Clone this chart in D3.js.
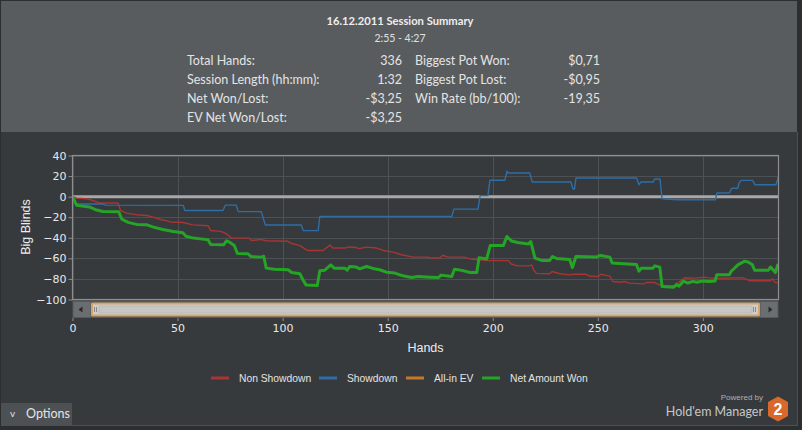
<!DOCTYPE html>
<html><head><meta charset="utf-8">
<script src="https://cdn.jsdelivr.net/npm/d3@7"></script>
<style>html,body{margin:0;padding:0;background:#2c2f32;overflow:hidden} svg{display:block}</style>
</head><body><svg id="c" width="802" height="430"></svg>
<script>
// ---------- DATA ----------
const title = "16.12.2011 Session Summary";
const timeRange = "2:55 - 4:27";
const statLabelsLeft = ["Total Hands:", "Session Length (hh:mm):", "Net Won/Lost:", "EV Net Won/Lost:"];
const statValuesLeft = ["336", "1:32", "-$3,25", "-$3,25"];
const statLabelsRight = ["Biggest Pot Won:", "Biggest Pot Lost:", "Win Rate (bb/100):"];
const statValuesRight = ["$0,71", "-$0,95", "-19,35"];

const xTicks = [0, 50, 100, 150, 200, 250, 300];
const yTicks = [40, 20, 0, -20, -40, -60, -80, -100];
const seriesNames = ["Non Showdown", "Showdown", "All-in EV", "Net Amount Won"];

// [hand, big blinds]
const nonShowdown = [[0,0],[1.9,-1.4],[7.5,-2.3],[9.9,-4],[13,-6.2],[21.7,-6.2],[22.9,-13.4],[25.7,-16],[30.5,-17.6],[35.3,-18.3],[38.4,-19.9],[42.4,-22.5],[44.8,-23.4],[46.3,-24.6],[52.7,-25.1],[57.2,-27.4],[64.6,-28.3],[65.7,-32.9],[70.5,-33.8],[73.3,-36.1],[75.7,-40.3],[84,-40.3],[85.2,-42.6],[89.6,-41.6],[92,-42.9],[102.5,-43.4],[104.4,-45.6],[108.5,-47.8],[110.8,-51],[112.1,-52.4],[119.3,-52.4],[122.5,-47.1],[124,-50],[129.6,-50],[131.6,-48.9],[135,-49.5],[136.5,-50.5],[139.9,-49.1],[144.7,-50],[148.6,-52.6],[152.6,-53.9],[156.6,-56.5],[162.1,-58.8],[169.2,-58.8],[170.5,-59.7],[174.8,-59.7],[176.2,-57],[178.7,-58.8],[186.4,-58.8],[189.7,-60.7],[193.2,-61.4],[198.2,-62.2],[207.4,-62.2],[208.8,-65.5],[211.7,-67.3],[217,-67.3],[218.6,-66.5],[219.4,-71.1],[220.8,-74.6],[227.1,-75],[228.2,-72.8],[232,-75],[236.6,-76.1],[238,-75.4],[244.2,-75.4],[246.2,-77.4],[250.2,-77.7],[251.4,-75.4],[255.7,-77.3],[257.2,-82.5],[261,-83.2],[262.5,-82.5],[265.2,-84.1],[271.8,-84.8],[273.2,-83.5],[277,-83.5],[280.2,-86.5],[286.5,-86.5],[287.8,-84],[288.8,-82.9],[291.3,-78.8],[296,-79.2],[300.9,-78.3],[303,-79],[306.5,-79.4],[318.9,-78.8],[322.1,-81.7],[332.2,-81.7],[333,-79.8],[334.5,-83.6],[336,-83.6]];

const showdown = [[0,0],[1.9,-7.2],[14,-7.2],[16,-8.2],[52.7,-8.5],[53.5,-13.4],[71.6,-13.4],[72.8,-8.2],[77.9,-8.2],[78.9,-14.6],[89.8,-14.6],[91.8,-27.5],[108.9,-27.5],[109.8,-33],[116.9,-33],[117.7,-19.3],[180.5,-19.3],[181.5,-12.1],[193,-12.1],[194,1],[197.7,1],[198.7,16],[205.8,16],[206.8,24.7],[207.4,23],[217.6,23],[218.8,14.2],[237.2,14.2],[238.2,7.4],[238.9,7.4],[239.6,18.1],[268.5,18.1],[269.6,11.6],[270.5,14.2],[276.3,14.2],[277.1,17.1],[279.6,17.1],[280.6,-2],[287.9,-3],[306,-3],[306.7,3.5],[312.7,3.8],[313.7,8.2],[316.6,8.2],[317.3,13.5],[318.3,15.8],[323.6,15.8],[324.8,11.6],[334.8,11.6],[335.9,19]];

const netWon = [[0,0],[2,-8.5],[8,-10],[11.5,-13],[14.5,-14.4],[22,-14.7],[23.5,-22],[26.5,-25],[30.5,-27],[35.5,-27.4],[38.5,-29.6],[43,-32],[48,-33.8],[52.5,-35],[54,-38.5],[57.5,-40.3],[62,-41.3],[64.5,-42],[65.8,-46.5],[72,-46.8],[73.3,-42.9],[74.9,-44.5],[77,-47.5],[78.5,-55.3],[83.5,-55.6],[85,-58.2],[89.8,-58.8],[91,-58],[92.2,-69.5],[96,-70.5],[102.6,-71.1],[104.3,-73.8],[108.2,-75],[109.7,-81],[111.2,-86],[116.5,-86.5],[117.7,-72],[120.1,-71.5],[122.9,-66.3],[124.5,-69.5],[129.6,-69.5],[130.7,-71.5],[132,-67.9],[135,-68.5],[136.7,-70.2],[139.9,-67.9],[143,-69.8],[146.2,-71.1],[149.4,-73.4],[153.4,-74.3],[157.3,-77],[161.3,-78.6],[164.5,-77.7],[170,-78.3],[174.2,-78.6],[175.4,-76.3],[180.5,-77.6],[181.8,-70.5],[185.3,-71.7],[189.2,-73.7],[192.4,-73.7],[193.5,-59.5],[197.1,-60.7],[198.8,-47.6],[205.1,-47.6],[206.7,-38.7],[209,-43.2],[211.8,-44.6],[217,-46],[218.1,-43.6],[220.1,-59.8],[223.2,-62],[227.1,-62],[228.4,-58.2],[230.3,-60.1],[236.6,-61.1],[237.9,-69],[239.6,-58.2],[244.6,-58.4],[249.3,-58.8],[251.2,-57.2],[255.7,-58.8],[256.9,-64.6],[262,-65.2],[268.4,-66],[269.6,-72.5],[270.7,-69.5],[276.3,-69.5],[277.1,-67.3],[279.5,-68.5],[280.6,-87.4],[286.2,-88],[287.4,-85.5],[288.7,-87],[290.7,-82.2],[292.9,-84],[295.3,-82.4],[297,-83.2],[300,-82],[303,-82.5],[305.8,-82],[306.6,-76],[312.6,-76],[313.4,-72.8],[316.7,-66.3],[319.8,-62.8],[321.5,-63.5],[323.6,-66.3],[324.6,-71.5],[331.2,-71.5],[332.2,-68.5],[334.5,-73.8],[335.8,-65.5]];

// EV net won equals net won (-$3,25) in this session
const allInEV = netWon;

// ---------- DRAW ----------
const svg = d3.select("#c");
const colors = {ns:"#a83434", sd:"#2f6da6", ev:"#c5782a", net:"#25a525"};

// panels
svg.append("rect").attr("x",0).attr("y",0).attr("width",802).attr("height",430).attr("fill","#2c2f32");
svg.append("rect").attr("x",1).attr("y",1).attr("width",796).attr("height",131).attr("fill","#585c5f");
svg.append("rect").attr("x",1).attr("y",132).attr("width",796).attr("height",294).attr("fill","#363a3d");
svg.append("line").attr("x1",797.5).attr("x2",797.5).attr("y1",132).attr("y2",426).attr("stroke","#4c5053");
svg.append("line").attr("x1",1).attr("x2",798).attr("y1",425.5).attr("y2",425.5).attr("stroke","#4c5053");

// header
const hFont = "Lato, 'Open Sans', sans-serif";
svg.append("text").attr("x",400).attr("y",25).attr("text-anchor","middle")
  .attr("font-family",hFont).attr("font-weight","bold").attr("font-size",11.2).attr("fill","#eeeeee").text(title);
svg.append("text").attr("x",400).attr("y",42).attr("text-anchor","middle")
  .attr("font-family",hFont).attr("font-size",10.5).attr("fill","#e0e0e0").text(timeRange);
const rowY = [65, 84, 103, 122];
const hdr = svg.append("g").attr("font-family",hFont).attr("font-size",12.5).attr("fill","#e4e4e4");
statLabelsLeft.forEach((t,i)=>hdr.append("text").attr("x",187).attr("y",rowY[i]).text(t));
statValuesLeft.forEach((t,i)=>hdr.append("text").attr("x",402).attr("y",rowY[i]).attr("text-anchor","end").text(t));
statLabelsRight.forEach((t,i)=>hdr.append("text").attr("x",415).attr("y",rowY[i]).text(t));
statValuesRight.forEach((t,i)=>hdr.append("text").attr("x",600).attr("y",rowY[i]).attr("text-anchor","end").text(t));

// scales
const x = d3.scaleLinear().domain([0,336]).range([72.5,778.5]);
const y = d3.scaleLinear().domain([-100,40]).range([299.5,155.5]);
const plotL = x(0), plotR = x(336), plotT = y(40), plotB = y(-100);

// grid
const grid = svg.append("g").attr("stroke","#4d5154").attr("stroke-width",1);
yTicks.forEach(v=>grid.append("line").attr("x1",plotL).attr("x2",plotR).attr("y1",Math.round(y(v))+0.5).attr("y2",Math.round(y(v))+0.5));
xTicks.forEach(v=>grid.append("line").attr("x1",Math.round(x(v))+0.5).attr("x2",Math.round(x(v))+0.5).attr("y1",plotT).attr("y2",plotB));

// zero line
svg.append("line").attr("x1",plotL).attr("x2",plotR).attr("y1",y(0)).attr("y2",y(0)).attr("stroke","#a8a8a8").attr("stroke-width",3);

// clip
svg.append("clipPath").attr("id","clip").append("rect").attr("x",plotL).attr("y",plotT).attr("width",plotR-plotL).attr("height",plotB-plotT);
const line = d3.line().x(d=>x(d[0])).y(d=>y(d[1]));
const lines = svg.append("g").attr("clip-path","url(#clip)").attr("fill","none").attr("stroke-linejoin","round");
lines.append("path").datum(nonShowdown).attr("d",line).attr("stroke",colors.ns).attr("stroke-width",1.4);
lines.append("path").datum(showdown).attr("d",line).attr("stroke",colors.sd).attr("stroke-width",1.4);
lines.append("path").datum(allInEV).attr("d",line).attr("stroke",colors.ev).attr("stroke-width",1.4);
lines.append("path").datum(netWon).attr("d",line).attr("stroke",colors.net).attr("stroke-width",3);

// plot border
svg.append("rect").attr("x",plotL).attr("y",plotT).attr("width",plotR-plotL).attr("height",plotB-plotT)
  .attr("fill","none").attr("stroke","#8e8e8e").attr("stroke-width",1.2);

// y axis
const yAxis = svg.append("g").attr("transform",`translate(${plotL},0)`)
  .call(d3.axisLeft(y).tickValues(yTicks).tickSize(4).tickPadding(2).tickFormat(d3.format("d")));
yAxis.select(".domain").remove();
yAxis.selectAll("line").attr("stroke","#8e8e8e");
yAxis.selectAll("text").attr("fill","#e8e8e8").attr("font-family","'DejaVu Sans', sans-serif").attr("font-size",11);

// scrollbar
const sb = svg.append("g");
sb.append("rect").attr("x",plotL).attr("y",301).attr("width",plotR-plotL).attr("height",17).attr("fill","#55595c");
sb.append("rect").attr("x",plotL+1).attr("y",302).attr("width",17).attr("height",15).attr("fill","#6a6e71");
sb.append("rect").attr("x",plotR-18).attr("y",302).attr("width",17).attr("height",15).attr("fill","#6a6e71");
sb.append("path").attr("d",`M${plotL+6},309.5 L${plotL+10},306.5 L${plotL+10},312.5 Z`).attr("fill","#2a2a2a");
sb.append("path").attr("d",`M${plotR-6},309.5 L${plotR-10},306.5 L${plotR-10},312.5 Z`).attr("fill","#2a2a2a");
sb.append("rect").attr("x",91).attr("y",302.5).attr("width",669).attr("height",14).attr("rx",1.5).attr("fill","#d4a468");
sb.append("rect").attr("x",93).attr("y",304.5).attr("width",665).attr("height",10).attr("fill","#cdcdcd");
sb.append("rect").attr("x",99).attr("y",306).attr("width",653).attr("height",7).attr("fill","#c6c6c6").attr("stroke","#b2b2b2").attr("stroke-width",0.6);
[94.5,96.5,753.5,755.5].forEach(gx=>sb.append("line").attr("x1",gx).attr("x2",gx).attr("y1",307).attr("y2",312).attr("stroke","#8a8a8a"));

// x axis
const xAxis = svg.append("g").attr("transform","translate(0,318)")
  .call(d3.axisBottom(x).tickValues(xTicks).tickSize(3).tickPadding(3));
xAxis.select(".domain").remove();
xAxis.selectAll("line").attr("stroke","#8e8e8e");
xAxis.selectAll("text").attr("fill","#e8e8e8").attr("font-family","'DejaVu Sans', sans-serif").attr("font-size",11);

// axis titles
const aFont = "'Liberation Sans', Arial, sans-serif";
svg.append("text").attr("transform","translate(30,227) rotate(-90)").attr("text-anchor","middle")
  .attr("font-family",aFont).attr("font-size",12.5).attr("fill","#ececec").text("Big Blinds");
svg.append("text").attr("x",425.5).attr("y",352).attr("text-anchor","middle")
  .attr("font-family",aFont).attr("font-size",12.5).attr("fill","#ececec").text("Hands");

// legend
const legendX = [211, 319, 406, 482];
const legendCols = [colors.ns, colors.sd, colors.ev, colors.net];
const lg = svg.append("g").attr("font-family",aFont).attr("font-size",10.3).attr("fill","#e4e4e4");
seriesNames.forEach((n,i)=>{
  lg.append("line").attr("x1",legendX[i]).attr("x2",legendX[i]+18).attr("y1",378).attr("y2",378).attr("stroke",legendCols[i]).attr("stroke-width",3);
  lg.append("text").attr("x",legendX[i]+28).attr("y",382).text(n);
});

// options button
svg.append("rect").attr("x",1).attr("y",403).attr("width",71).attr("height",22).attr("fill","#4d5154");
svg.append("text").attr("x",10).attr("y",417).attr("font-family",hFont).attr("font-size",10).attr("fill","#e0e0e0").text("v");
svg.append("text").attr("x",26).attr("y",418).attr("font-family",hFont).attr("font-size",12.5).attr("fill","#e4e4e4").text("Options");

// brand
svg.append("text").attr("x",763).attr("y",400).attr("text-anchor","end").attr("font-family",aFont).attr("font-size",8).attr("fill","#b0b0b0").text("Powered by");
svg.append("text").attr("x",763).attr("y",416).attr("text-anchor","end").attr("font-family",hFont).attr("font-size",12.5).attr("fill","#c8c8c8").text("Hold'em Manager");
svg.append("path").attr("d","M778,396.5 L788,402 L788,416 L778,421.5 L768,416 L768,402 Z").attr("fill","#d9682a");
svg.append("text").attr("x",778).attr("y",415).attr("text-anchor","middle").attr("font-family",aFont).attr("font-weight","bold").attr("font-size",16).attr("fill","#ffffff").text("2");
</script></body></html>
